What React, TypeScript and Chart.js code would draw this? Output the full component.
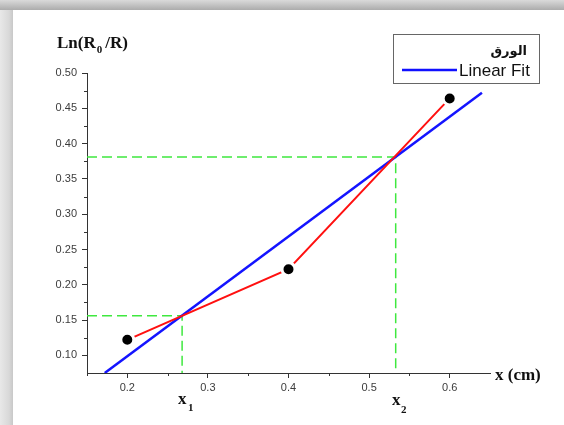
import React, { useEffect, useRef } from "react";
import { Chart, registerables } from "chart.js";

Chart.register(...registerables);

// Data
const xValues = [0.2, 0.4, 0.6];
const yValues = [0.122, 0.222, 0.464];
const fitX = [0.172, 0.64];
const fitY = [0.075, 0.472];
const guideX = [0.268, 0.533];
const guideY = [0.156, 0.381];
const xMin = 0.15;
const xMax = 0.65;
const yMin = 0.075;
const yMax = 0.5;
const xTicks = [0.2, 0.3, 0.4, 0.5, 0.6];
const yTicks = [0.1, 0.15, 0.2, 0.25, 0.3, 0.35, 0.4, 0.45, 0.5];
const xMinor = [0.15, 0.25, 0.35, 0.45, 0.55];
const yMinor = [0.125, 0.175, 0.225, 0.275, 0.325, 0.375, 0.425, 0.475];
const seriesLabel = "الورق";
const fitLabel = "Linear Fit";

const SERIF = "'Liberation Serif', 'Times New Roman', serif";
const SANS = "'Liberation Sans', Arial, sans-serif";

const framePlugin = {
  id: "frame",
  beforeDraw(chart: any) {
    const { ctx, width, height } = chart;
    ctx.save();
    ctx.fillStyle = "#ffffff";
    ctx.fillRect(0, 0, width, height);
    const gl = ctx.createLinearGradient(0, 0, 13, 0);
    gl.addColorStop(0, "#e8e8e8");
    gl.addColorStop(0.7, "#d8d8d8");
    gl.addColorStop(1, "#c8c8c8");
    ctx.fillStyle = gl;
    ctx.fillRect(0, 0, 13, height);
    const gt = ctx.createLinearGradient(0, 0, 0, 10);
    gt.addColorStop(0, "#dadada");
    gt.addColorStop(1, "#acacac");
    ctx.fillStyle = gt;
    ctx.fillRect(0, 0, width, 10);
    ctx.restore();
  },
  afterDraw(chart: any) {
    const { ctx } = chart;
    const xs = chart.scales.x;
    const ys = chart.scales.y;
    ctx.save();
    ctx.strokeStyle = "#333";
    ctx.lineWidth = 1;
    ctx.beginPath();
    xMinor.forEach((v) => {
      const px = Math.round(xs.getPixelForValue(v)) + 0.5;
      ctx.moveTo(px, ys.bottom);
      ctx.lineTo(px, ys.bottom + 3);
    });
    yMinor.forEach((v) => {
      const py = Math.round(ys.getPixelForValue(v)) + 0.5;
      ctx.moveTo(xs.left - 3, py);
      ctx.lineTo(xs.left, py);
    });
    ctx.stroke();

    ctx.fillStyle = "#111";
    ctx.textBaseline = "alphabetic";
    ctx.textAlign = "left";
    ctx.font = `bold 17px ${SERIF}`;
    let x = 57;
    ctx.fillText("Ln(R", x, 48);
    x += ctx.measureText("Ln(R").width;
    ctx.font = `bold 11px ${SERIF}`;
    ctx.fillText("0", x + 1, 53);
    x += ctx.measureText("0").width + 4;
    ctx.font = `bold 17px ${SERIF}`;
    ctx.fillText("/R)", x, 48);

    ctx.fillText("x (cm)", 495, 380);

    ctx.fillText("x", 178, 404);
    ctx.fillText("x", 392, 405);
    ctx.font = `bold 11px ${SERIF}`;
    ctx.fillText("1", 188, 411);
    ctx.fillText("2", 401, 413);

    ctx.strokeStyle = "#666";
    ctx.lineWidth = 1;
    ctx.strokeRect(393.5, 34.5, 146, 49);
    ctx.fillStyle = "#111";
    ctx.textAlign = "right";
    ctx.font = `bold 13px 'DejaVu Sans', ${SANS}`;
    ctx.fillText(seriesLabel, 527, 55);
    ctx.textAlign = "left";
    ctx.font = `17px ${SANS}`;
    ctx.fillText(fitLabel, 459, 76);
    ctx.strokeStyle = "#1010ff";
    ctx.lineWidth = 2.5;
    ctx.beginPath();
    ctx.moveTo(402, 70);
    ctx.lineTo(457, 70);
    ctx.stroke();
    ctx.restore();
  },
};

export default function App() {
  const ref = useRef<HTMLCanvasElement>(null);
  useEffect(() => {
    if (!ref.current) return;
    const points = xValues.map((v, i) => ({ x: v, y: yValues[i] }));
    const fit = fitX.map((v, i) => ({ x: v, y: fitY[i] }));
    const guides = guideX.map((gx, i) => [
      { x: xMin, y: guideY[i] },
      { x: gx, y: guideY[i] },
      { x: gx, y: yMin },
    ]);
    const chart = new Chart(ref.current, {
      type: "line",
      data: {
        datasets: [
          {
            label: seriesLabel,
            data: points,
            borderColor: "#ff1010",
            borderWidth: 2,
            backgroundColor: "#000",
            pointRadius: 6.5,
            pointBorderWidth: 3,
            pointBorderColor: "#ffffff",
            pointBackgroundColor: "#000000",
            tension: 0,
            order: 0,
          },
          {
            label: fitLabel,
            data: fit,
            borderColor: "#1414ff",
            borderWidth: 2.5,
            pointRadius: 0,
            tension: 0,
            order: 1,
          },
          ...guides.map((g) => ({
            label: "guide",
            data: g,
            borderColor: "#3fe83f",
            borderWidth: 1.5,
            borderDash: [10, 5],
            pointRadius: 0,
            tension: 0,
            order: 2,
          })),
        ] as any,
      },
      options: {
        animation: false,
        responsive: false,
        events: [],
        layout: { padding: { left: 13, top: 73, right: 74, bottom: 0 } },
        plugins: { legend: { display: false }, tooltip: { enabled: false } },
        scales: {
          x: {
            type: "linear",
            min: xMin,
            max: xMax,
            afterBuildTicks: (axis: any) => {
              axis.ticks = xTicks.map((v) => ({ value: v }));
            },
            afterFit: (axis: any) => {
              axis.height = 52;
            },
            grid: {
              display: true,
              drawOnChartArea: false,
              drawTicks: true,
              tickLength: 5,
              color: "#333",
            },
            border: { display: true, color: "#333", width: 1 },
            ticks: {
              padding: 3,
              color: "#3c3c3c",
              font: { family: SANS, size: 11 },
              callback: (v: any) => Number(v).toFixed(1),
            },
          },
          y: {
            type: "linear",
            min: yMin,
            max: yMax,
            afterBuildTicks: (axis: any) => {
              axis.ticks = yTicks.map((v) => ({ value: v }));
            },
            afterFit: (axis: any) => {
              axis.width = 74;
            },
            grid: {
              display: true,
              drawOnChartArea: false,
              drawTicks: true,
              tickLength: 5,
              color: "#333",
            },
            border: { display: true, color: "#333", width: 1 },
            ticks: {
              padding: 5,
              color: "#3c3c3c",
              font: { family: SANS, size: 11 },
              callback: (v: any) => Number(v).toFixed(2),
            },
          },
        },
      },
      plugins: [framePlugin],
    });
    return () => chart.destroy();
  }, []);
  return (
    <div style={{ position: "fixed", left: 0, top: 0, width: 564, height: 425 }}>
      <canvas ref={ref} width={564} height={425} style={{ width: 564, height: 425, display: "block" }} />
    </div>
  );
}
